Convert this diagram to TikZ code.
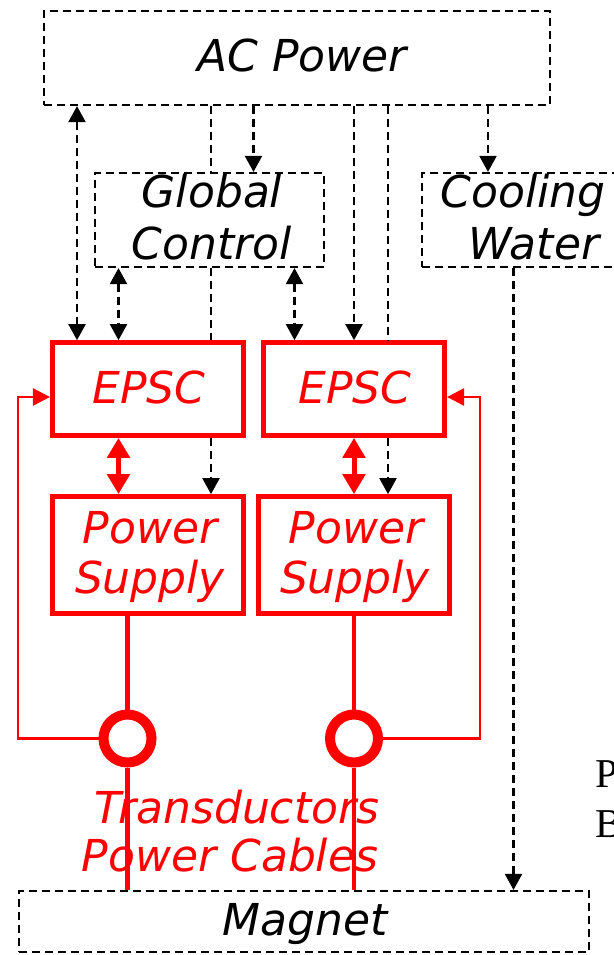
\documentclass[tikz,border=0pt]{standalone}
\usepackage{fontspec}
\newfontfamily\dv[ItalicFont={DejaVu Sans Oblique}]{DejaVu Sans}
\newfontfamily\lserif{Liberation Serif}
\usetikzlibrary{arrows.meta,shapes.geometric}
\begin{document}
\begin{tikzpicture}[x=1pt,y=-1pt,
  dbox/.style={draw=black,line width=2.2pt,dash pattern=on 8pt off 5pt,inner sep=0pt},
  rbox/.style={draw=red,line width=4.7pt,inner sep=0pt},
  txt/.style={font=\dv\itshape\fontsize{44}{52}\selectfont,inner sep=0pt,anchor=base},
  rtxt/.style={txt,text=red},
  stxt/.style={font=\lserif\fontsize{41}{48}\selectfont,inner sep=0pt,anchor=base west},
  bline/.style={draw=black,line width=2.2pt,dash pattern=on 8pt off 5pt},
  barr/.style={bline,-{Triangle[length=16pt,width=17pt]}},
  bboth/.style={bline,{Triangle[length=16pt,width=17pt]}-{Triangle[length=16pt,width=17pt]}},
  rdbl/.style={draw=red,line width=5pt,{Triangle[length=20pt,width=22pt]}-{Triangle[length=20pt,width=22pt]}},
  rthick/.style={draw=red,line width=4.7pt},
  rthin/.style={draw=red,line width=2.8pt},
  trans/.style={draw=red,circle,line width=10pt,minimum size=48pt,inner sep=0pt}
]
\useasboundingbox (0,0) rectangle (613,955);
% boxes
\node[dbox,minimum width=506pt,minimum height=94pt] (ac) at (297,58) {};
\node[dbox,minimum width=229pt,minimum height=94pt] (gc) at (209.5,220) {};
\node[dbox,minimum width=208pt,minimum height=94pt] (cw) at (526,220) {};
\node[dbox,minimum width=570pt,minimum height=61pt] (mag) at (304,921.5) {};
\node[rbox,minimum width=191pt,minimum height=93pt] (epl) at (147.75,389) {};
\node[rbox,minimum width=181.5pt,minimum height=93pt] (epr) at (354,389) {};
\node[rbox,minimum width=191pt,minimum height=117pt] (psl) at (147.75,555) {};
\node[rbox,minimum width=190.5pt,minimum height=117pt] (psr) at (354,555) {};
\node[trans] (trl) at (127.5,738.5) {};
\node[trans] (trr) at (354,738.5) {};
% texts
\node[txt] (tac) at (302,72) {AC Power};
\node[txt] (tgc1) at (212,207) {Global};
\node[txt] (tgc2) at (212,259) {Control};
\node[txt] (tcw1) at (523,207) {Cooling};
\node[txt] (tcw2) at (534,259) {Water};
\node[rtxt] (tepl) at (149,403) {EPSC};
\node[rtxt] (tepr) at (355,403) {EPSC};
\node[rtxt] (tpsl1) at (150,543) {Power};
\node[rtxt] (tpsl2) at (150,593) {Supply};
\node[rtxt] (tpsr1) at (356,543) {Power};
\node[rtxt] (tpsr2) at (355,593) {Supply};
\node[rtxt] (ttr) at (237,823) {Transductors};
\node[rtxt] (tpc) at (230,871) {Power Cables};
\node[txt] (tmag) at (305,935) {Magnet};
\node[stxt] (tp) at (595,787) {P};
\node[stxt] (tb) at (595,837) {B};
% x positions
\coordinate (xa) at (77,0);
\coordinate (xb) at (118.5,0);
\coordinate (xc) at (211,0);
\coordinate (xd) at (253.5,0);
\coordinate (xe) at (294.5,0);
\coordinate (xf) at (354,0);
\coordinate (xg) at (388,0);
\coordinate (xh) at (488,0);
\coordinate (xi) at (513.5,0);
\coordinate (fl) at (18,397);
\coordinate (fr) at (480,397);
% black connectors
\draw[bboth] (ac.south -| xa) -- (epl.north -| xa);
\draw[bboth] (gc.south -| xb) -- (epl.north -| xb);
\draw[bline] (ac.south -| xc) -- (gc.north -| xc);
\draw[bline] (gc.south -| xc) -- (epl.north -| xc);
\draw[barr] (epl.south -| xc) -- (psl.north -| xc);
\draw[barr] (ac.south -| xd) -- (gc.north -| xd);
\draw[bboth] (gc.south -| xe) -- (epr.north -| xe);
\draw[barr] (ac.south -| xf) -- (epr.north -| xf);
\draw[bline] (ac.south -| xg) -- (epr.north -| xg);
\draw[barr] (epr.south -| xg) -- (psr.north -| xg);
\draw[barr] (ac.south -| xh) -- (cw.north -| xh);
\draw[barr] (cw.south -| xi) -- (mag.north -| xi);
% red connectors
\draw[rdbl] (epl.south -| xb) -- (psl.north -| xb);
\draw[rdbl] (epr.south -| xf) -- (psr.north -| xf);
\draw[rthick] (psl.south -| trl) -- (trl.north);
\draw[rthick] (trl.south) -- (mag.north -| trl);
\draw[rthick] (psr.south -| trr) -- (trr.north);
\draw[rthick] (trr.south) -- (mag.north -| trr);
\draw[rthin,-{Triangle[length=17pt,width=17pt]}] (trl.west) -| (fl) -- (epl.west |- fl);
\draw[rthin,-{Triangle[length=17pt,width=17pt]}] (trr.east) -| (fr) -- (epr.east |- fr);
\end{tikzpicture}
\end{document}
